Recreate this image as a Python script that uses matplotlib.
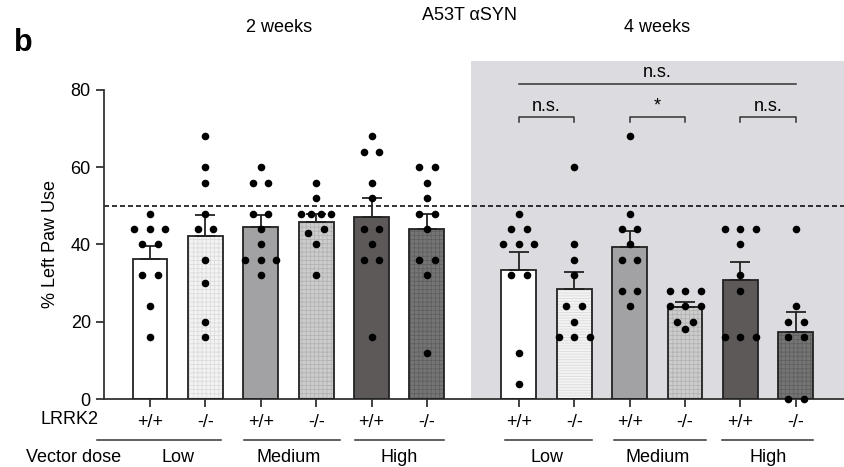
import numpy as np
import matplotlib
matplotlib.use("Agg")
import matplotlib.pyplot as plt
from matplotlib.patches import Rectangle

plt.rcParams["font.family"] = ["Liberation Sans", "DejaVu Sans"]
plt.rcParams["font.size"] = 13
plt.rcParams["hatch.linewidth"] = 0.6

# group labels
genotypes = ["+/+", "-/-", "+/+", "-/-", "+/+", "-/-"]
doses = ["Low", "Medium", "High"]

# 2 weeks: bar means and SEM
means_2wk = [36.3, 42.2, 44.6, 45.8, 47.2, 43.9]
sem_2wk = [3.3, 5.4, 3.0, 2.2, 4.8, 4.1]
# 4 weeks: bar means and SEM
means_4wk = [33.5, 28.4, 39.3, 23.8, 30.9, 17.4]
sem_4wk = [4.6, 4.4, 4.1, 1.3, 4.5, 5.1]

# individual animals
w2_low_wt = [48, 44, 44, 44, 40, 40, 32, 32, 24, 16]
w2_low_ko = [68, 60, 56, 48, 44, 44, 36, 30, 20, 16]
w2_med_wt = [60, 56, 56, 48, 48, 44, 40, 36, 36, 36, 32]
w2_med_ko = [56, 52, 48, 48, 48, 48, 44, 43, 40, 32]
w2_high_wt = [68, 64, 64, 56, 52, 44, 44, 40, 36, 36, 16]
w2_high_ko = [60, 60, 56, 52, 48, 48, 44, 36, 36, 32, 12]
w4_low_wt = [48, 44, 44, 40, 40, 40, 32, 32, 12, 4]
w4_low_ko = [60, 40, 36, 32, 24, 24, 20, 16, 16, 16]
w4_med_wt = [68, 48, 44, 44, 40, 36, 36, 28, 28, 24]
w4_med_ko = [28, 28, 28, 24, 24, 24, 20, 20, 18]
w4_high_wt = [44, 44, 44, 40, 32, 28, 16, 16, 16]
w4_high_ko = [44, 24, 20, 20, 16, 16, 0, 0]

dots_2wk = [w2_low_wt, w2_low_ko, w2_med_wt, w2_med_ko, w2_high_wt, w2_high_ko]
dots_4wk = [w4_low_wt, w4_low_ko, w4_med_wt, w4_med_ko, w4_high_wt, w4_high_ko]

# comparisons in the 4 week panel (bar index pairs, label)
comparisons = [(0, 1, "n.s."), (2, 3, "*"), (4, 5, "n.s.")]

# bar styles
fills = ["white", "#f3f3f3", "#a2a2a4", "#cdcdcd", "#5d5959", "#757575"]
hatch_cols = [None, "#dcdcdc", None, "#b3b3b3", None, "#606060"]
hatches_2wk = [None, "++++", None, "++++", None, "++++"]
hatches_4wk = [None, "------", None, "++++", None, "++++"]

x2 = np.arange(6)
x4 = np.arange(6) + 6.66


def swarm_offsets(values, tol=2.0):
    vals = np.array(values, dtype=float)
    order = np.argsort(vals)
    offsets = np.zeros(len(vals))
    clusters = []
    for idx in order:
        if clusters and abs(vals[idx] - vals[clusters[-1][-1]]) < tol:
            clusters[-1].append(idx)
        else:
            clusters.append([idx])
    for c in clusters:
        n = len(c)
        step = 0.28 if n <= 3 else 0.18
        for k, idx in enumerate(c):
            offsets[idx] = (k - (n - 1) / 2) * step
    return offsets


def draw_group(ax, xs, means, sems, dots, hatches):
    for i in range(len(xs)):
        if hatches[i]:
            ax.bar(xs[i], means[i], width=0.63, color=fills[i], edgecolor=hatch_cols[i],
                   hatch=hatches[i], linewidth=0, zorder=2)
        else:
            ax.bar(xs[i], means[i], width=0.63, color=fills[i], linewidth=0, zorder=2)
        ax.bar(xs[i], means[i], width=0.63, fill=False, edgecolor="#222222",
               linewidth=1.3, zorder=3)
        ax.errorbar(xs[i], means[i], yerr=[[0], [sems[i]]], fmt="none", ecolor="#222222",
                    elinewidth=1.3, capsize=7.5, capthick=1.3, zorder=4)
        off = swarm_offsets(dots[i])
        ax.scatter(xs[i] + off, dots[i], s=30, color="black", zorder=5, clip_on=False,
                   linewidths=0)


fig = plt.figure(figsize=(8.44, 4.67), dpi=100)
ax = fig.add_axes([0.1232, 0.1456, 0.8768, 0.6617])

# shaded 4 week panel
ax.add_patch(Rectangle((5.79, 0), 7.0, 87.5, facecolor="#dcdce0", edgecolor="none",
                       zorder=0, clip_on=False))

draw_group(ax, x2, means_2wk, sem_2wk, dots_2wk, hatches_2wk)
draw_group(ax, x4, means_4wk, sem_4wk, dots_4wk, hatches_4wk)

ax.axhline(50, color="#111111", lw=1.2, ls=(0, (3, 1.8)), zorder=1)

ax.set_xlim(-0.83, 12.53)
ax.set_ylim(0, 80)
ax.set_yticks([0, 20, 40, 60, 80])
ax.set_ylabel("% Left Paw Use", labelpad=8)
ax.set_xticks(np.concatenate([x2, x4]))
ax.set_xticklabels(genotypes + genotypes)
ax.tick_params(axis="both", length=6, width=1.3, color="#333333", direction="out")
ax.tick_params(axis="x", pad=5)
for side in ["top", "right"]:
    ax.spines[side].set_visible(False)
for side in ["left", "bottom"]:
    ax.spines[side].set_linewidth(1.3)
    ax.spines[side].set_color("#333333")
ax.set_facecolor("none")

# significance brackets
ax.plot([x4[0], x4[5]], [81.6, 81.6], color="#333333", lw=1.1, clip_on=False)
ax.text((x4[0] + x4[5]) / 2, 82.3, "n.s.", ha="center", va="bottom", fontsize=13)
for a, b, lab in comparisons:
    ax.plot([x4[a], x4[a], x4[b], x4[b]], [71.6, 73, 73, 71.6], color="#333333", lw=1.1,
            clip_on=False)
    ax.text((x4[a] + x4[b]) / 2, 73.6, lab, ha="center", va="bottom", fontsize=13)

# dose lines and labels below the axis
trans = ax.get_xaxis_transform()
dose_spans = [(-0.96, 1.29), (1.70, 3.43), (3.70, 5.31), (6.41, 7.98), (8.38, 10.04), (10.33, 11.97)]
dose_centers = [0.5, 2.5, 4.5, x4[0] + 0.5, x4[2] + 0.5, x4[4] + 0.5]
for (a, b), c, lab in zip(dose_spans, dose_centers, doses + doses):
    ax.plot([a, b], [-0.133, -0.133], color="#333333", lw=1.1, transform=trans, clip_on=False)
    ax.text(c, -0.19, lab, ha="center", va="center", transform=trans, fontsize=13)

fig.text(99 / 844, 1 - 420 / 467, "LRRK2", ha="right", va="center", fontsize=13)
fig.text(121 / 844, 1 - 457 / 467, "Vector dose", ha="right", va="center", fontsize=13)

fig.text(279 / 844, 1 - 27 / 467, "2 weeks", ha="center", va="center", fontsize=13)
fig.text(470 / 844, 1 - 15 / 467, "A53T αSYN", ha="center", va="center", fontsize=13)
fig.text(657 / 844, 1 - 28 / 467, "4 weeks", ha="center", va="center", fontsize=13)
fig.text(14 / 844, 1 - 43 / 467, "b", ha="left", va="center", fontsize=22, fontweight="bold")

fig.savefig("out.png", dpi=100)
